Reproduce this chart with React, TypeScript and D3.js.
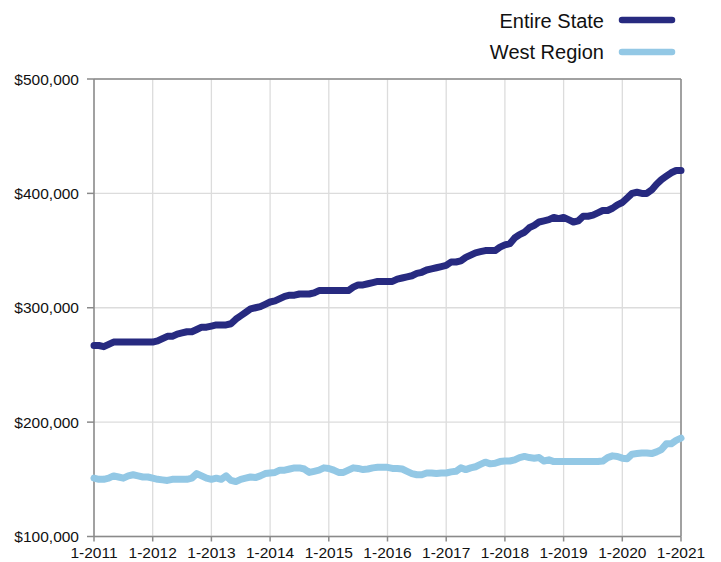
import React from "react";
import * as d3 from "d3";

const startYear = 2011;
const yearLabels = ["1-2011","1-2012","1-2013","1-2014","1-2015","1-2016","1-2017","1-2018","1-2019","1-2020","1-2021"];
const yTicks = [100000, 200000, 300000, 400000, 500000];

// Monthly values (thousands of $), Jan 2011 .. Jan 2021
const entireState = [
  267,267,266,268,270,270,270,270,270,270,270,270,
  270,271,273,275,275,277,278,279,279,281,283,283,
  284,285,285,285,286,290,293,296,299,300,301,303,
  305,306,308,310,311,311,312,312,312,313,315,315,
  315,315,315,315,315,318,320,320,321,322,323,323,
  323,323,325,326,327,328,330,331,333,334,335,336,
  337,340,340,341,344,346,348,349,350,350,350,353,
  355,356,361,364,366,370,372,375,376,377,379,378,
  379,377,375,376,380,380,381,383,385,385,387,390,
  392,396,400,401,400,400,403,408,412,415,418,420,
  420
];
const westRegion = [
  151,150,150,151,153,152,151,153,154,153,152,152,
  151,150,149.5,149,150,150,150,150,151,155,153,151,
  150,151,150,153,149,148,150,151,152,151.5,153,155,
  155.5,156,158,158,159,160,160,159,156,157,158,160,
  159.5,158,156,156,158,160,159.5,158.5,159,160,160.5,160.5,
  160.5,159.5,159.5,159,157,155,154,154,155.5,155.5,155,155.5,
  155.5,156.5,157,160,158.5,160,161,163,165,163.5,164,165.5,
  166,166,167,169,170,169,168.5,169,166,167,165.5,165.5,
  165.5,165.5,165.5,165.5,165.5,165.5,165.5,165.5,166,169,170.5,170,
  168.5,168,172,172.5,173,173,172.5,174,176,181,181,184,
  186
];

const seriesNames = ["Entire State", "West Region"];
const seriesColors = ["#272a80", "#93c8e5"];

export default function App() {
  const W = 721, H = 562;
  const left = 94, right = 681, top = 79, bottom = 536.5;
  const x = d3.scaleLinear().domain([0, 120]).range([left, right]);
  const y = d3.scaleLinear().domain([100000, 500000]).range([bottom, top]);
  const line = d3.line<number>().x((_, i) => x(i)).y(d => y(d * 1000));
  const fmt = (v: number) => "$" + d3.format(",")(v);
  const font = "'Liberation Sans', Arial, Helvetica, sans-serif";
  const data = [entireState, westRegion];

  return (
    <svg width={W} height={H} style={{ position: "absolute", left: 0, top: 0 }} fontFamily={font}>
      <rect width={W} height={H} fill="#fff" />
      {/* grid */}
      {yearLabels.map((_, i) => (
        <line key={"vg" + i} x1={x(i * 12)} x2={x(i * 12)} y1={top} y2={bottom} stroke="#dcdcdc" strokeWidth={1.3} />
      ))}
      {yTicks.map(v => (
        <line key={"hg" + v} x1={left} x2={right} y1={y(v)} y2={y(v)} stroke="#dcdcdc" strokeWidth={1.3} />
      ))}
      {/* frame */}
      <line x1={left} x2={right} y1={top} y2={top} stroke="#8a8a8a" strokeWidth={1.5} />
      <line x1={right} x2={right} y1={top} y2={bottom} stroke="#8a8a8a" strokeWidth={1.5} />
      <line x1={left} x2={left} y1={top} y2={bottom} stroke="#8a8a8a" strokeWidth={1.5} />
      <line x1={left} x2={right} y1={bottom} y2={bottom} stroke="#8a8a8a" strokeWidth={1.5} />
      {/* y ticks */}
      {yTicks.map(v => (
        <g key={"yt" + v}>
          <line x1={left - 7} x2={left} y1={y(v)} y2={y(v)} stroke="#8a8a8a" strokeWidth={1.5} />
          <text x={79} y={y(v) + 5.5} textAnchor="end" fontSize={15.5} fill="#111">{fmt(v)}</text>
        </g>
      ))}
      {/* x ticks */}
      {yearLabels.map((lab, i) => (
        <g key={"xt" + i}>
          <line x1={x(i * 12)} x2={x(i * 12)} y1={bottom} y2={bottom + 5} stroke="#8a8a8a" strokeWidth={1.5} />
          <text x={x(i * 12)} y={558} textAnchor="middle" fontSize={15.5} fill="#111">{lab}</text>
        </g>
      ))}
      {/* series */}
      {data.map((d, k) => (
        <path key={"s" + k} d={line(d) || ""} fill="none" stroke={seriesColors[k]} strokeWidth={7}
          strokeLinejoin="round" strokeLinecap="round" />
      ))}
      {/* legend */}
      {seriesNames.map((n, k) => (
        <g key={"lg" + k}>
          <text x={604} y={21 + k * 31 + 7} textAnchor="end" fontSize={20} fill="#111">{n}</text>
          <line x1={622} x2={672} y1={20 + k * 32} y2={20 + k * 32} stroke={seriesColors[k]} strokeWidth={6.5} strokeLinecap="round" />
        </g>
      ))}
    </svg>
  );
}
